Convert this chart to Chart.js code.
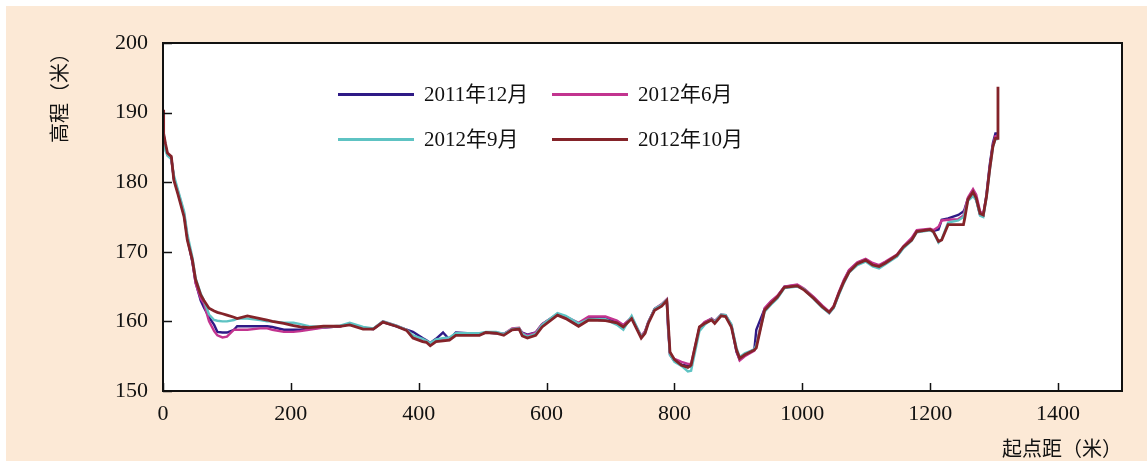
<!DOCTYPE html>
<html>
<head>
<meta charset="utf-8">
<script src="https://cdn.jsdelivr.net/npm/chart.js@4"></script>
<style>
  body { margin: 0; background: #ffffff; }
  #fondo { position: absolute; left: 6px; top: 6px; width: 1141px; height: 455px; background: #fce9d6; }
  #grafica { position: absolute; left: 0; top: 0; }
  .leyenda { position: absolute; font-family: 'Liberation Serif', 'Noto Sans CJK SC', serif; font-size: 21px; color: #111; line-height: 24px; }
  .leyenda .linea { position: absolute; width: 76px; height: 3px; top: 11px; }
  .leyenda .texto { position: absolute; left: 86px; top: 0; white-space: nowrap; }
</style>
</head>
<body>
<div id="fondo">
  <canvas id="grafica" width="1141" height="455"></canvas>
</div>
<script>
// Datos: distancia desde el punto inicial (m)
const qidianju = [
  0, 1, 4, 7, 13, 17, 23, 33, 38, 46,
  51, 59, 64, 72, 80, 85, 93, 100, 111, 116,
  132, 152, 163, 171, 189, 204, 215, 228, 251, 277,
  292, 313, 329, 344, 365, 381, 391, 406, 412, 418,
  427, 438, 448, 458, 495, 505, 521, 533, 546, 557,
  562, 570, 583, 593, 617, 630, 650, 666, 692, 710,
  720, 733, 748, 754, 759, 769, 780, 788, 790, 793,
  800, 811, 821, 826, 839, 847, 858, 863, 873, 880,
  889, 897, 902, 910, 925, 928, 941, 951, 961, 972,
  992, 1003, 1018, 1031, 1042, 1049, 1057, 1065, 1073, 1086,
  1099, 1110, 1120, 1130, 1148, 1158, 1171, 1179, 1200, 1205,
  1213, 1218, 1228, 1244, 1252, 1254, 1259, 1267, 1272, 1278,
  1283, 1288, 1293, 1298, 1302, 1306, 1306
];

// Elevacion (m) de cada levantamiento
const elev2011_12 = [
  189.0, 186.8, 185.2, 184.0, 183.5, 180.5, 178.6, 175.3, 172.0, 168.5,
  165.6, 163.0, 162.0, 160.6, 159.5, 158.5, 158.4, 158.4, 158.8, 159.3,
  159.3, 159.3, 159.3, 159.2, 158.8, 158.8, 158.8, 159.0, 159.1, 159.3,
  159.6, 159.0, 158.9, 159.9, 159.3, 158.8, 158.5, 157.6, 157.3, 156.9,
  157.5, 158.4, 157.4, 158.4, 158.2, 158.4, 158.3, 158.2, 158.8, 158.9,
  158.4, 158.1, 158.4, 159.6, 161.0, 160.6, 159.6, 160.5, 160.5, 160.0,
  159.4, 160.6, 157.8, 158.5, 159.9, 161.8, 162.4, 163.0, 159.0, 155.2,
  154.3, 153.8, 153.6, 153.5, 159.0, 159.8, 160.4, 160.0, 160.9, 160.8,
  159.4, 155.6, 154.5, 155.2, 156.0, 158.8, 161.8, 162.8, 163.6, 165.0,
  165.2, 164.6, 163.4, 162.2, 161.2, 162.0, 164.0, 165.8, 167.3, 168.4,
  168.9, 168.2, 168.0, 168.5, 169.4, 170.6, 171.8, 173.0, 173.2, 173.0,
  173.2, 174.6, 174.8, 175.3, 175.8, 176.2, 177.6, 178.4, 177.5, 175.3,
  175.2, 178.2, 182.4, 185.6, 187.0, 187.0, 187.0
];

const elev2012_6 = [
  189.5, 186.6, 185.0, 184.0, 183.4, 180.6, 178.8, 175.5, 172.2, 168.6,
  165.5, 163.3, 162.6, 160.0, 158.6, 158.0, 157.7, 157.8, 158.8, 158.8,
  158.8, 159.0, 159.0, 158.8, 158.5, 158.5, 158.6, 158.8, 159.1, 159.3,
  159.6, 159.1, 158.9, 160.0, 159.4, 158.8, 157.9, 157.3, 157.2, 156.8,
  157.3, 157.5, 157.6, 158.1, 158.2, 158.4, 158.4, 158.2, 159.0, 159.1,
  158.3, 158.0, 158.4, 159.6, 161.1, 160.7, 159.8, 160.7, 160.7, 160.1,
  159.5, 160.5, 157.9, 158.6, 159.9, 161.8, 162.5, 163.2, 159.5, 155.4,
  154.6, 154.2, 153.9, 153.9, 159.1, 159.9, 160.4, 160.0, 161.0, 160.9,
  159.5, 155.8, 154.4, 155.0, 155.8, 156.5, 161.9, 162.9, 163.7, 165.0,
  165.3, 164.7, 163.5, 162.3, 161.4, 162.2, 164.2, 166.0, 167.4, 168.5,
  169.0, 168.4, 168.1, 168.6, 169.6, 170.8, 172.0, 173.1, 173.3, 173.1,
  173.6, 174.5, 174.6, 174.7, 175.2, 176.0, 177.8, 179.0, 178.2, 175.8,
  175.4, 178.0, 182.0, 185.3, 186.6, 186.6, 186.6
];

const elev2012_9 = [
  188.0, 186.0, 184.5, 183.8, 183.3, 181.0, 179.0, 175.8, 172.6, 169.2,
  166.2, 164.0, 163.0, 161.0, 160.2, 160.1, 160.0, 160.0, 160.2, 160.4,
  160.4, 160.2, 160.0, 160.0, 159.8, 159.8, 159.6, 159.3, 159.2, 159.4,
  159.8, 159.2, 159.0, 160.0, 159.4, 158.8, 158.0, 157.5, 157.2, 156.9,
  157.4, 157.6, 157.7, 158.3, 158.3, 158.5, 158.5, 158.2, 158.9, 159.0,
  158.2, 157.8, 158.2, 159.5, 161.2, 160.8, 159.7, 160.3, 160.3, 159.5,
  158.8, 160.8, 157.8, 158.4, 159.8, 161.8, 162.4, 163.1, 159.8, 155.2,
  154.2, 153.6, 152.8, 152.9, 158.6, 159.5, 160.3, 159.9, 161.0, 160.9,
  159.6, 156.2, 154.9, 155.4, 156.0, 156.6, 161.4, 162.4, 163.3, 164.8,
  165.0, 164.6, 163.2, 162.0, 161.2, 161.9, 163.8, 165.5, 167.0, 168.1,
  168.6, 167.9, 167.6, 168.2, 169.3, 170.5, 171.6, 172.8, 173.1, 172.8,
  171.3, 171.8, 174.2, 174.5, 175.0, 175.6, 177.3, 178.0, 177.4, 175.2,
  175.0, 177.8, 181.6, 185.0, 186.2, 186.2, 186.2
];

const elev2012_10 = [
  190.4, 187.0, 185.5, 184.2, 183.7, 180.3, 178.4, 175.0, 171.7, 168.8,
  166.0, 163.8, 163.0, 161.9, 161.5, 161.3, 161.1, 160.9, 160.6, 160.4,
  160.8, 160.4, 160.2, 160.0, 159.7, 159.4, 159.2, 159.1, 159.3, 159.3,
  159.5, 158.9, 158.9, 159.9, 159.3, 158.7, 157.6, 157.1, 157.0, 156.5,
  157.1, 157.2, 157.3, 158.0, 158.0, 158.4, 158.3, 158.0, 158.8, 158.9,
  157.9, 157.6, 158.0, 159.2, 160.9, 160.4, 159.3, 160.2, 160.1, 159.8,
  159.2, 160.4, 157.6, 158.3, 159.7, 161.6, 162.2, 163.0, 160.2, 155.6,
  154.5, 153.7, 153.4, 153.7, 159.2, 159.7, 160.2, 159.7, 160.8, 160.7,
  159.2, 155.9, 154.7, 155.2, 155.9, 156.2, 161.6, 162.6, 163.5, 164.9,
  165.1, 164.5, 163.3, 162.1, 161.3, 162.1, 164.0, 165.7, 167.1, 168.3,
  168.8, 168.1, 167.9, 168.4, 169.5, 170.7, 171.7, 172.9, 173.2, 172.9,
  171.5, 171.7, 173.9, 173.9, 173.9, 174.8, 177.5, 178.6, 177.7, 175.5,
  175.3, 177.9, 181.8, 185.1, 186.3, 186.3, 193.7
];

const series = ['2011年12月', '2012年6月', '2012年9月', '2012年10月'];
const colores = ['#2f1a86', '#c2348f', '#5ec3c3', '#842329'];
const xTicks = [0, 200, 400, 600, 800, 1000, 1200, 1400];
const yTicks = [150, 160, 170, 180, 190, 200];

const fuente = "'Liberation Serif', 'Noto Sans CJK SC', serif";

// Arma los puntos {x, y}
function puntos(elev) {
  return qidianju.map((d, i) => ({ x: d, y: elev[i] }));
}

// Fondo blanco, marco y marcas hacia adentro
const marco = {
  id: 'marco',
  beforeDatasetsDraw(chart) {
    const { ctx, chartArea: a } = chart;
    ctx.save();
    ctx.fillStyle = '#ffffff';
    ctx.fillRect(a.left, a.top, a.right - a.left, a.bottom - a.top);
    ctx.restore();
  },
  afterDatasetsDraw(chart) {
    const { ctx, chartArea: a, scales } = chart;
    ctx.save();
    ctx.strokeStyle = '#111';
    ctx.lineWidth = 1.5;
    ctx.beginPath();
    scales.x.ticks.forEach(t => {
      const px = Math.round(scales.x.getPixelForValue(t.value)) + 0.5;
      ctx.moveTo(px, a.bottom);
      ctx.lineTo(px, a.bottom - 8);
    });
    scales.y.ticks.forEach(t => {
      const py = Math.round(scales.y.getPixelForValue(t.value)) + 0.5;
      ctx.moveTo(a.left, py);
      ctx.lineTo(a.left + 9, py);
    });
    ctx.stroke();
    ctx.lineWidth = 2;
    ctx.strokeRect(a.left, a.top, a.right - a.left, a.bottom - a.top);
    ctx.restore();
  }
};

const elevaciones = [elev2011_12, elev2012_6, elev2012_9, elev2012_10];
const ordenes = [3, 2, 1, 0];

new Chart(document.getElementById('grafica'), {
  type: 'line',
  data: {
    datasets: elevaciones.map((e, i) => ({
      label: series[i],
      data: puntos(e),
      borderColor: colores[i],
      borderWidth: i === 3 ? 2.8 : 2.4,
      pointRadius: 0,
      tension: 0,
      fill: false,
      order: ordenes[i]
    }))
  },
  options: {
    responsive: false,
    animation: false,
    devicePixelRatio: 1,
    layout: { padding: { top: 37, right: 25, left: 0, bottom: 0 } },
    plugins: { legend: { display: false }, tooltip: { enabled: false } },
    scales: {
      x: {
        type: 'linear',
        min: 0,
        max: 1500,
        afterBuildTicks: s => { s.ticks = xTicks.map(v => ({ value: v })); },
        afterFit: s => { s.height = 70; },
        grid: { display: false, drawTicks: false },
        border: { display: false },
        ticks: { color: '#111', padding: 10, maxRotation: 0, font: { family: fuente, size: 22 }, callback: v => String(v) },
        title: {
          display: true, text: '起点距（米）', align: 'end', color: '#111',
          font: { family: fuente, size: 20, lineHeight: 1 }, padding: { top: 0, bottom: 0 }
        }
      },
      y: {
        min: 150,
        max: 200,
        afterBuildTicks: s => { s.ticks = yTicks.map(v => ({ value: v })); },
        afterFit: s => { s.width = 157; },
        grid: { display: false, drawTicks: false },
        border: { display: false },
        ticks: { color: '#111', padding: 15, font: { family: fuente, size: 22 }, callback: v => String(v) },
        title: {
          display: true, text: '高程（米）', align: 'end', color: '#111',
          font: { family: fuente, size: 20, lineHeight: 1 }, padding: { top: 46, bottom: 0 }
        }
      }
    }
  },
  plugins: [marco]
});

// Leyenda en dos columnas dentro del area de trazado
const posLeyenda = [[332, 76], [546, 76], [332, 121], [546, 121]];
series.forEach((s, i) => {
  const div = document.createElement('div');
  div.className = 'leyenda';
  div.style.left = posLeyenda[i][0] + 'px';
  div.style.top = posLeyenda[i][1] + 'px';
  div.innerHTML = `<div class="linea" style="background:${colores[i]}"></div><div class="texto">${s}</div>`;
  document.getElementById('fondo').appendChild(div);
});
</script>
</body>
</html>
